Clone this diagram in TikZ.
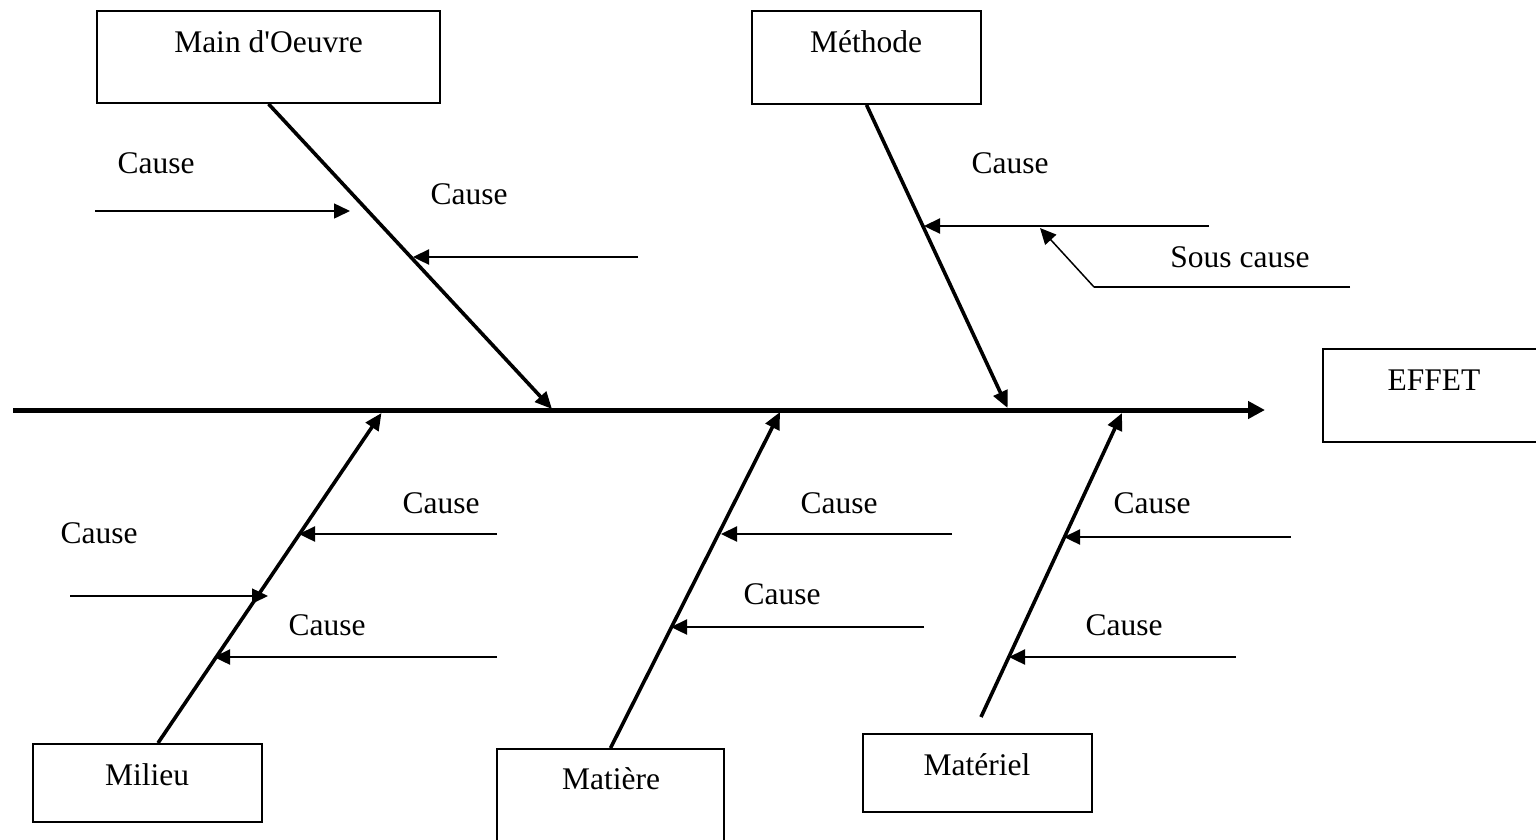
\documentclass[tikz,border=0pt]{standalone}
\usepackage{fontspec}
\setmainfont{Liberation Serif}[Ligatures=TeXOff]
\usetikzlibrary{arrows.meta}
\begin{document}
\begin{tikzpicture}[x=1pt,y=-1pt,
  box/.style={draw,line width=1.8pt,rectangle,inner sep=0pt},
  lbl/.style={anchor=base,inner sep=0pt,font=\fontsize{31.5}{36}\selectfont},
  spine/.style={line width=5pt,-{Triangle[length=17pt,width=17pt]}},
  bone/.style={line width=3.6pt,-{Triangle[length=17pt,width=15pt]}},
  twig/.style={line width=2.4pt,-{Triangle[length=16pt,width=15pt]}},
  twigthin/.style={line width=1.4pt},
  twigtip/.style={line width=1.5pt,-{Triangle[length=16pt,width=15pt]}},
]
\useasboundingbox (0,0) rectangle (1536,839);

% ---- category boxes ----
\node[box,minimum width=343pt,minimum height=92pt] (mo) at (268.5,57) {};
\node[box,minimum width=229pt,minimum height=93pt] (me) at (866.5,57.5) {};
\node[box,minimum width=222pt,minimum height=93pt] (ef) at (1434,395.5) {};
\node[box,minimum width=229pt,minimum height=78pt] (mi) at (147.5,783) {};
\node[box,minimum width=227pt,minimum height=111pt] (ma) at (610.5,804.5) {};
\node[box,minimum width=229pt,minimum height=78pt] (mt) at (977.5,773) {};

\node[lbl] (mot) at (268.5,52) {Main d'Oeuvre};
\node[lbl] (met) at (866,52) {Méthode};
\node[lbl] (eft) at (1434,390) {EFFET};
\node[lbl] (mit) at (147,785) {Milieu};
\node[lbl] (mat) at (611,789) {Matière};
\node[lbl] (mtt) at (977,775) {Matériel};

% ---- spine ----
\coordinate (spS) at (13,410);
\coordinate (spE) at (1265,410);
\draw[spine] (spS) -- (spE);

% ---- main bones ----
\coordinate (moJ) at (552,409);
\coordinate (meJ) at (1007.6,408);
\coordinate (miB) at (158,743);
\coordinate (miJ) at (381.5,413);
\coordinate (maJ) at (780,412);
\coordinate (mtB) at (981,717);
\coordinate (mtJ) at (1122,413);
\draw[bone] (mo.south) -- (moJ);
\draw[bone] (me.south) -- (meJ);
\draw[bone] (miB) -- (miJ);
\draw[bone] (ma.north) -- (maJ);
\draw[bone] (mtB) -- (mtJ);

% ---- causes: Main d'Oeuvre ----
\coordinate (a1s) at (95,211);   \coordinate (a1e) at (350,211);
\coordinate (a2s) at (638,257);  \coordinate (a2e) at (413,257);
\draw[twigtip] (a1s) -- (a1e);
\draw[twig] (a2s) -- (a2e);
\node[lbl] (c1) at (156,173) {Cause};
\node[lbl] (c2) at (469,204) {Cause};

% ---- causes: Méthode, with a sub-cause ----
\coordinate (a3s) at (1209,226); \coordinate (a3m) at (1150,226); \coordinate (a3e) at (924,226);
\draw[twigthin] (a3s) -- (a3m);
\draw[twig] (a3m) -- (a3e);
\node[lbl] (c3) at (1010,173) {Cause};
\coordinate (s1) at (1350,287); \coordinate (s2) at (1150,287);
\coordinate (s3) at (1094,287); \coordinate (s4) at (1040,228);
\draw[twigthin] (s1) -- (s2);
\draw[line width=2.6pt] (s2) -- (s3);
\draw[twigtip] (s3) -- (s4);
\node[lbl] (sc) at (1240,267) {Sous cause};

% ---- causes: Milieu ----
\coordinate (b1s) at (497,534); \coordinate (b1m) at (382,534); \coordinate (b1e) at (299,534);
\coordinate (b2s) at (70,596);  \coordinate (b2e) at (268,596);
\coordinate (b3s) at (497,657); \coordinate (b3m) at (268.6,657); \coordinate (b3e) at (214,657);
\draw[twigthin] (b1s) -- (b1m); \draw[twig] (b1m) -- (b1e);
\draw[twigtip] (b2s) -- (b2e);
\draw[twigthin] (b3s) -- (b3m); \draw[twig] (b3m) -- (b3e);
\node[lbl] (c4) at (441,513) {Cause};
\node[lbl] (c5) at (99,543) {Cause};
\node[lbl] (c6) at (327,635) {Cause};

% ---- causes: Matière ----
\coordinate (d1s) at (952,534); \coordinate (d1m) at (781,534); \coordinate (d1e) at (721,534);
\coordinate (d2s) at (924,627); \coordinate (d2m) at (723,627); \coordinate (d2e) at (671,627);
\draw[twigthin] (d1s) -- (d1m); \draw[twig] (d1m) -- (d1e);
\draw[twigthin] (d2s) -- (d2m); \draw[twig] (d2m) -- (d2e);
\node[lbl] (c7) at (839,513) {Cause};
\node[lbl] (c8) at (782,604) {Cause};

% ---- causes: Matériel ----
\coordinate (e1s) at (1290.5,537); \coordinate (e1e) at (1064,537);
\coordinate (e2s) at (1236,657); \coordinate (e2m) at (1065,657); \coordinate (e2e) at (1009,657);
\draw[twig] (e1s) -- (e1e);
\draw[twigthin] (e2s) -- (e2m); \draw[twig] (e2m) -- (e2e);
\node[lbl] (c9) at (1152,513) {Cause};
\node[lbl] (c10) at (1124,635) {Cause};
\end{tikzpicture}
\end{document}
